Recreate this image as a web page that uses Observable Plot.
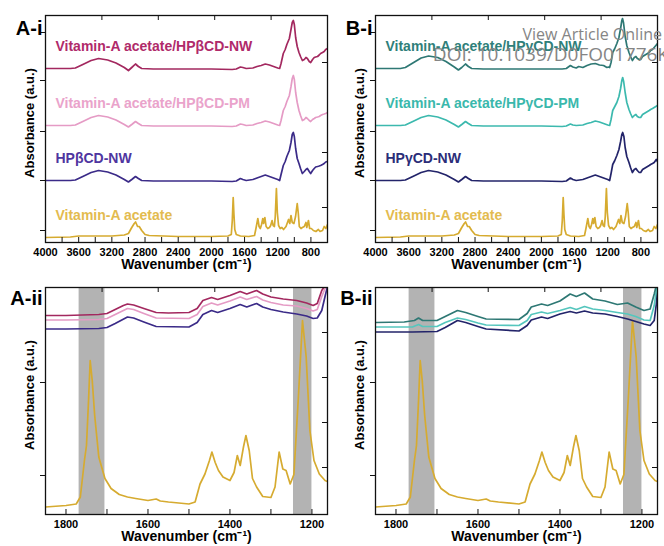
<!DOCTYPE html>
<html><head><meta charset="utf-8">
<script src="https://cdn.jsdelivr.net/npm/d3@7"></script>
<script src="https://cdn.jsdelivr.net/npm/@observablehq/plot@0.6"></script>
<style>
html,body{margin:0;padding:0;background:#fff;}
#wrap{position:relative;width:664px;height:546px;overflow:hidden;background:#fff;}
.p{position:absolute;}
.wm{position:absolute;font-family:"Open Sans",sans-serif;color:#858585;white-space:nowrap;line-height:1;}
</style></head><body>
<div id="wrap">
<div class="p" id="ai" style="left:0;top:0"></div>
<div class="p" id="bi" style="left:330px;top:0"></div>
<div class="p" id="aii" style="left:0;top:270px"></div>
<div class="p" id="bii" style="left:330px;top:270px"></div>
<div class="wm" style="right:2px;top:26px;font-size:16px">View Article Online</div>
<div class="wm" style="right:-5px;top:45px;font-size:19px">DOI: 10.1039/D0FO01776K</div>
</div>
<script>
// ---------- full-range spectra (wavenumber, absorbance a.u.) ----------
const aNW = [[4000,17.4],[3700,17.4],[3640,17.45],[3550,17.8],[3450,18.2],[3360,18.4],[3250,18.25],[3150,17.95],[3050,17.5],[3000,17.2],[2960,17.5],[2915,17.85],[2880,17.6],[2840,17.4],[2700,17.35],[2400,17.35],[2000,17.35],[1750,17.3],[1700,17.35],[1650,17.55],[1620,17.5],[1580,17.4],[1500,17.45],[1450,17.6],[1400,17.7],[1350,17.85],[1300,17.75],[1250,17.6],[1200,17.45],[1177,17.4],[1160,17.9],[1133,18.9],[1110,19.3],[1090,19.8],[1060,20.4],[1040,21.3],[1025,22.0],[1012,22.2],[1000,21.8],[984,20.5],[965,19.6],[944,19.0],[925,18.6],[903,18.2],[880,18.3],[860,18.5],[843,18.4],[820,18.1],[803,18.0],[780,18.3],[760,18.5],[743,18.55],[720,18.6],[700,18.75],[683,18.9],[660,19.0],[640,19.1],[622,19.3],[600,19.4]];
const aPM = [[4000,11.7],[3700,11.7],[3640,11.75],[3550,12.1],[3450,12.5],[3360,12.7],[3250,12.55],[3150,12.25],[3050,11.8],[3000,11.55],[2960,11.8],[2915,12.1],[2880,11.9],[2840,11.7],[2700,11.65],[2400,11.65],[2000,11.65],[1750,11.6],[1700,11.65],[1650,11.85],[1620,11.8],[1580,11.7],[1500,11.75],[1450,11.9],[1400,12.0],[1350,12.15],[1300,12.05],[1250,11.9],[1200,11.75],[1177,11.7],[1160,12.2],[1133,13.2],[1110,13.6],[1090,14.1],[1060,14.7],[1040,15.6],[1025,16.4],[1012,16.7],[1000,16.3],[984,15.0],[965,14.0],[944,13.2],[925,12.7],[903,12.2],[880,12.3],[860,12.5],[843,12.4],[820,12.2],[803,12.1],[780,12.3],[760,12.4],[743,12.5],[720,12.55],[700,12.6],[683,12.7],[660,12.8],[640,12.85],[622,12.9],[600,13.0]];
const aHP = [[4000,6.2],[3700,6.2],[3640,6.25],[3550,6.6],[3450,7.0],[3360,7.2],[3250,7.05],[3150,6.75],[3050,6.3],[3000,6.05],[2960,6.3],[2915,6.6],[2880,6.4],[2840,6.2],[2700,6.15],[2400,6.15],[2000,6.15],[1750,6.1],[1700,6.15],[1650,6.4],[1620,6.3],[1580,6.2],[1500,6.3],[1450,6.45],[1400,6.6],[1350,6.75],[1300,6.6],[1250,6.45],[1200,6.3],[1177,6.2],[1160,6.8],[1133,7.7],[1110,8.1],[1090,8.6],[1060,9.2],[1040,10.0],[1025,10.8],[1012,11.0],[1000,10.6],[984,9.4],[965,8.4],[944,7.9],[925,7.4],[903,6.9],[880,7.1],[860,7.3],[843,7.4],[820,7.1],[803,6.9],[780,7.2],[760,7.4],[743,7.55],[720,7.6],[700,7.65],[683,7.7],[660,7.8],[640,7.9],[622,8.05],[600,8.1]];
const vitA = [[4000,0.5],[3700,0.55],[3600,0.65],[3400,0.65],[3200,0.65],[3050,0.75],[3000,0.9],[2960,1.5],[2930,1.9],[2914,2.05],[2890,1.6],[2870,1.6],[2840,1.2],[2800,0.8],[2750,0.7],[2400,0.6],[2000,0.6],[1800,0.65],[1760,0.8],[1748,2.2],[1737,4.5],[1728,2.8],[1718,1.3],[1700,0.8],[1650,0.65],[1550,0.6],[1480,0.7],[1465,1.3],[1440,2.4],[1425,1.6],[1410,1.4],[1395,1.8],[1380,2.4],[1370,1.9],[1355,2.5],[1340,1.6],[1320,1.4],[1300,1.5],[1285,1.7],[1268,2.2],[1255,1.7],[1240,1.6],[1230,2.6],[1216,5.4],[1205,3.0],[1190,1.7],[1170,1.4],[1150,1.5],[1130,1.3],[1100,1.6],[1070,2.3],[1055,1.9],[1040,2.7],[1025,2.0],[1005,1.9],[985,2.6],[965,3.9],[952,2.9],[940,1.6],[920,1.4],[903,1.5],[880,1.6],[860,2.0],[850,1.5],[830,2.2],[815,1.4],[795,1.4],[770,1.2],[740,1.1],[710,1.3],[690,1.1],[660,1.2],[640,1.6],[620,1.4],[600,1.8]];
const bNW = [[4000,17.4],[3700,17.4],[3640,17.5],[3550,17.95],[3450,18.45],[3360,18.65],[3250,18.5],[3150,18.1],[3050,17.55],[3000,17.25],[2960,17.5],[2915,17.85],[2880,17.6],[2840,17.4],[2700,17.35],[2400,17.35],[2000,17.35],[1750,17.35],[1700,17.4],[1650,17.7],[1620,17.55],[1580,17.45],[1550,17.6],[1500,17.5],[1450,17.7],[1400,17.85],[1350,17.9],[1300,17.75],[1250,17.7],[1210,17.5],[1190,17.55],[1177,17.5],[1160,18.0],[1140,19.0],[1115,19.4],[1090,19.9],[1065,20.5],[1045,21.4],[1030,22.2],[1022,22.4],[1010,22.0],[990,20.6],[970,19.7],[944,19.0],[925,18.6],[903,18.2],[880,18.5],[860,18.6],[843,18.4],[820,18.3],[803,18.3],[780,18.6],[760,18.7],[740,18.8],[720,18.9],[700,19.0],[683,19.2],[660,19.3],[640,19.5],[620,19.7],[600,19.9]];
const bPM = [[4000,11.7],[3700,11.7],[3640,11.75],[3550,12.1],[3450,12.5],[3360,12.7],[3250,12.55],[3150,12.25],[3050,11.8],[3000,11.55],[2960,11.8],[2915,12.1],[2880,11.9],[2840,11.7],[2700,11.65],[2400,11.65],[2000,11.65],[1750,11.6],[1700,11.65],[1650,11.85],[1620,11.75],[1580,11.7],[1500,11.75],[1450,11.9],[1400,12.0],[1350,12.15],[1300,12.05],[1250,11.9],[1200,11.75],[1177,11.7],[1160,12.3],[1140,13.2],[1115,13.6],[1090,14.0],[1065,14.6],[1045,15.4],[1030,16.2],[1020,16.5],[1008,16.1],[990,15.0],[970,14.0],[944,13.3],[925,12.9],[903,12.5],[880,12.7],[860,12.8],[843,12.6],[820,12.5],[803,12.5],[780,12.8],[760,12.9],[740,13.0],[720,13.1],[700,13.2],[683,13.3],[660,13.4],[640,13.5],[620,13.6],[600,13.7]];
const bHP = [[4000,6.2],[3700,6.2],[3640,6.25],[3550,6.6],[3450,7.0],[3360,7.2],[3250,7.05],[3150,6.75],[3050,6.3],[3000,6.05],[2960,6.3],[2915,6.6],[2880,6.4],[2840,6.2],[2700,6.15],[2400,6.15],[2000,6.15],[1750,6.1],[1700,6.15],[1650,6.45],[1620,6.3],[1580,6.2],[1500,6.3],[1450,6.45],[1400,6.6],[1350,6.75],[1300,6.6],[1250,6.45],[1200,6.3],[1177,6.2],[1160,6.9],[1140,7.8],[1115,8.2],[1090,8.7],[1065,9.3],[1045,10.1],[1030,10.8],[1020,11.0],[1005,10.6],[990,9.5],[970,8.6],[944,8.0],[925,7.5],[903,7.0],[880,7.3],[860,7.4],[843,7.2],[820,7.0],[803,7.0],[780,7.3],[760,7.4],[740,7.5],[720,7.6],[700,7.7],[683,7.8],[660,7.9],[640,8.0],[615,8.3],[600,8.1]];

// ---------- zoomed spectra (1850-1162 cm-1) ----------
const zAnw = [[1850,19.9],[1800,19.9],[1760,19.95],[1720,20.0],[1700,20.1],[1680,20.5],[1660,20.9],[1650,21.05],[1635,20.95],[1610,20.6],[1580,20.2],[1550,20.15],[1500,20.2],[1480,20.6],[1466,21.4],[1445,21.7],[1430,21.5],[1415,21.7],[1400,21.9],[1375,22.3],[1359,22.05],[1335,22.4],[1320,22.05],[1300,21.75],[1270,21.55],[1237,21.4],[1213,21.15],[1197,20.9],[1187,21.1],[1176,22.4],[1168,22.9],[1162,23.6]];
const zApm = [[1850,19.45],[1800,19.45],[1720,19.5],[1700,19.6],[1680,20.0],[1650,20.6],[1635,20.5],[1610,20.1],[1580,19.65],[1500,19.6],[1480,20.0],[1466,20.8],[1445,21.15],[1430,20.95],[1400,21.35],[1375,21.75],[1359,21.5],[1335,21.8],[1320,21.45],[1300,21.2],[1270,20.95],[1237,20.85],[1213,20.6],[1197,20.35],[1187,20.5],[1176,21.8],[1168,22.6],[1162,23.4]];
const zAhp = [[1850,18.55],[1800,18.55],[1720,18.6],[1700,18.7],[1680,19.1],[1650,19.75],[1635,19.65],[1610,19.25],[1580,18.8],[1500,18.75],[1480,19.2],[1466,20.0],[1445,20.4],[1430,20.2],[1400,20.6],[1375,21.0],[1359,20.75],[1335,21.1],[1320,20.75],[1300,20.5],[1270,20.25],[1237,20.05],[1213,19.85],[1197,19.6],[1187,19.65],[1176,20.4],[1168,21.8],[1162,22.8]];
const zVitA = [[1850,0.75],[1800,0.9],[1775,1.05],[1765,1.75],[1755,5.4],[1750,6.9],[1745,11.4],[1741,15.4],[1736,13.4],[1730,9.9],[1720,5.75],[1705,3.6],[1690,2.6],[1670,2.0],[1650,1.75],[1630,1.6],[1600,1.4],[1580,1.55],[1570,1.35],[1550,1.25],[1500,1.05],[1485,1.25],[1473,3.05],[1461,4.05],[1450,5.4],[1444,6.25],[1436,5.2],[1428,4.4],[1417,3.75],[1400,3.4],[1390,4.2],[1382,5.9],[1375,4.9],[1367,6.75],[1361,7.9],[1353,6.4],[1345,3.6],[1335,2.75],[1320,1.8],[1300,1.7],[1290,2.75],[1280,6.25],[1271,4.55],[1263,4.4],[1253,3.05],[1244,4.0],[1233,11.75],[1223,19.4],[1214,15.75],[1205,8.4],[1195,5.4],[1182,4.05],[1168,3.4],[1162,3.3]];
const zBnw = [[1850,19.2],[1780,19.25],[1755,19.4],[1745,19.65],[1735,19.4],[1700,19.4],[1680,19.8],[1650,20.4],[1630,20.2],[1600,19.8],[1580,19.55],[1500,19.5],[1480,20.1],[1470,20.75],[1445,21.05],[1430,20.9],[1400,21.35],[1375,22.05],[1360,21.8],[1340,22.15],[1320,21.55],[1290,21.35],[1260,21.0],[1235,21.15],[1215,20.75],[1195,20.4],[1180,20.55],[1170,22.05],[1162,23.4]];
const zBpm = [[1850,18.75],[1760,18.75],[1745,19.0],[1735,18.8],[1700,18.8],[1680,19.2],[1650,19.65],[1630,19.5],[1600,19.15],[1580,18.95],[1500,18.9],[1480,19.4],[1470,20.0],[1445,20.25],[1430,20.1],[1400,20.4],[1375,20.7],[1360,20.5],[1340,20.8],[1320,20.55],[1290,20.4],[1260,20.2],[1235,20.05],[1215,19.8],[1195,19.45],[1180,19.4],[1170,20.9],[1162,23.2]];
const zBhp = [[1850,18.25],[1760,18.25],[1700,18.3],[1680,18.7],[1650,19.4],[1630,19.2],[1600,18.8],[1580,18.55],[1500,18.35],[1480,18.9],[1470,19.45],[1445,19.75],[1430,19.6],[1400,20.05],[1375,20.3],[1360,20.15],[1340,20.35],[1320,20.15],[1290,20.05],[1260,19.8],[1235,19.55],[1215,19.3],[1195,19.05],[1180,18.9],[1170,19.4],[1165,21.0],[1162,22.9]];

// ---------- text & ticks ----------
const labelsA = ["Vitamin-A acetate/HPβCD-NW", "Vitamin-A acetate/HPβCD-PM", "HPβCD-NW", "Vitamin-A acetate"];
const labelsB = ["Vitamin-A acetate/HPγCD-NW", "Vitamin-A acetate/HPγCD-PM", "HPγCD-NW", "Vitamin-A acetate"];
const panelTags = ["A-i", "B-i", "A-ii", "B-ii"];
const xTitle = "Wavenumber (cm⁻¹)";
const yTitle = "Absorbance (a.u.)";
const xDomainFull = [4000, 600];
const xDomainZoom = [1850, 1162];
const yDomain = [0, 22.7];
const xTickLabelsFull = [4000, 3600, 3200, 2800, 2400, 2000, 1600, 1200, 800];
const xMinorFull = [3800, 3600, 3400, 3200, 3000, 2800, 2600, 2400, 2200, 2000, 1800, 1600, 1400, 1200, 1000, 800];
const xTopFull = [3320, 2640, 1960, 1280];
const yLeftFull = [1.2, 6.2, 11.1, 16.2, 21.0];
const yRightFull = [18.0, 9.0, 3.5];
const xTickLabelsZoom = [1800, 1600, 1400, 1200];
const xMinorZoom = [1800, 1700, 1600, 1500, 1400, 1300, 1200];
const xTopZoom = [1712, 1575, 1437, 1300];
const yLeftZoom = [13.2, 3.9];
const yRightZoom = [18.2, 13.7, 9.2, 4.7];
const bands = [[1768, 1705], [1245, 1200]];

const colA = {nw: "#a3285f", pm: "#e59bc5", hp: "#3b2b88", va: "#d6ab30"};
const txtA = {nw: "#b02a6a", pm: "#eaa3cb", hp: "#4f35a0", va: "#e3bb4f"};
const colB = {nw: "#2e7874", pm: "#3cb9ae", hp: "#23246a", va: "#d6ab30"};
const txtB = {nw: "#2f7f7a", pm: "#3ab8ac", hp: "#2b2d78", va: "#e3bb4f"};

function panel({tag, xDomain, series, labels, full, height, marginTop, marginBottom, showBands}) {
  const W = 332, ml = 45, mr = 5;
  const fw = W - ml - mr, fh = height - marginTop - marginBottom;
  const marks = [];
  if (showBands) marks.push(Plot.rect(bands, {x1: d => d[0], x2: d => d[1], y1: yDomain[0], y2: yDomain[1], fill: "#b3b3b3"}));
  series.forEach(s => marks.push(Plot.line(s.data, {x: d => d[0], y: d => d[1], stroke: s.color, strokeWidth: 1.7, clip: true})));
  if (labels) labels.forEach((lab, i) => marks.push(Plot.text([lab], {
    x: xDomain[0] - 120, y: series[i].data[0][1] + 2.2, text: d => d, fill: series[i].text,
    textAnchor: "start", fontSize: 14, fontWeight: "bold"})));
  marks.push(Plot.tickY(full ? yLeftFull : yLeftZoom, {y: d => d, insetRight: fw - 5, dx: -5, stroke: "#111"}));
  marks.push(Plot.tickY(full ? yRightFull : yRightZoom, {y: d => d, insetLeft: fw - 5, stroke: "#111"}));
  marks.push(Plot.tickX(full ? xMinorFull : xMinorZoom, {x: d => d, insetTop: fh - 5, stroke: "#111"}));
  marks.push(Plot.tickX(full ? xTopFull : xTopZoom, {x: d => d, insetBottom: fh - 5, stroke: "#111"}));
  marks.push(Plot.axisX(full ? xTickLabelsFull : xTickLabelsZoom, {tickSize: 0, tickPadding: 6, tickFormat: d => `${d}`, fontSize: 11, fontWeight: "bold", label: null}));
  marks.push(Plot.text([xTitle], {frameAnchor: "bottom", dy: 17, lineAnchor: "top", textAnchor: "middle", fontSize: 14, fontWeight: "bold", text: d => d}));
  marks.push(Plot.text([yTitle], {frameAnchor: "left", rotate: -90, dx: -16, dy: -6, textAnchor: "middle", lineAnchor: "middle", fontSize: 13, fontWeight: "bold", text: d => d}));
  marks.push(Plot.text([tag], {frameAnchor: "top-left", dx: -3, dy: full ? 5 : 3, textAnchor: "end", lineAnchor: "top", fontSize: 20, fontWeight: "bold", text: d => d}));
  marks.push(Plot.frame({stroke: "#111", strokeWidth: 1.3}));
  return Plot.plot({
    width: W, height, marginLeft: ml, marginRight: mr, marginTop, marginBottom,
    style: {fontFamily: "'Liberation Sans', Arial, sans-serif", color: "#000", background: "transparent", overflow: "visible"},
    x: {domain: xDomain}, y: {domain: yDomain, axis: null},
    marks
  });
}

const sAi = [
  {data: aNW, color: colA.nw, text: txtA.nw},
  {data: aPM, color: colA.pm, text: txtA.pm},
  {data: aHP, color: colA.hp, text: txtA.hp},
  {data: vitA, color: colA.va, text: txtA.va}];
const sBi = [
  {data: bNW, color: colB.nw, text: txtB.nw},
  {data: bPM, color: colB.pm, text: txtB.pm},
  {data: bHP, color: colB.hp, text: txtB.hp},
  {data: vitA, color: colB.va, text: txtB.va}];
const sAii = [
  {data: zVitA, color: colA.va}, {data: zAhp, color: colA.hp}, {data: zApm, color: colA.pm}, {data: zAnw, color: colA.nw}];
const sBii = [
  {data: zVitA, color: colB.va}, {data: zBhp, color: colB.hp}, {data: zBpm, color: "#55c6bd"}, {data: zBnw, color: colB.nw}];

document.getElementById("ai").append(panel({tag: panelTags[0], xDomain: xDomainFull, series: sAi, labels: labelsA, full: true, height: 280, marginTop: 15, marginBottom: 38}));
document.getElementById("bi").append(panel({tag: panelTags[1], xDomain: xDomainFull, series: sBi, labels: labelsB, full: true, height: 280, marginTop: 15, marginBottom: 38}));
document.getElementById("aii").append(panel({tag: panelTags[2], xDomain: xDomainZoom, series: sAii, labels: null, full: false, height: 276, marginTop: 17, marginBottom: 32, showBands: true}));
document.getElementById("bii").append(panel({tag: panelTags[3], xDomain: xDomainZoom, series: sBii, labels: null, full: false, height: 276, marginTop: 17, marginBottom: 32, showBands: true}));
</script>
</body></html>
